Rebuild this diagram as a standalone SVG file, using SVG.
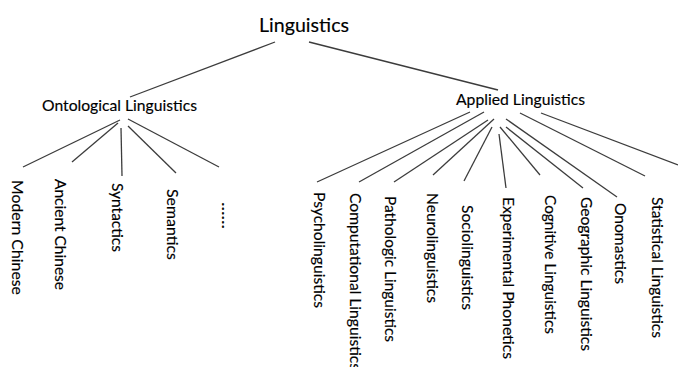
<svg xmlns="http://www.w3.org/2000/svg" width="678" height="367" viewBox="0 0 678 367">
<style>
.t{font-family:Lato,"Open Sans","Liberation Sans",sans-serif;fill:#000;stroke:#000;stroke-width:0.15px;font-size:15.4px}
.title{font-size:20px}
.c line{stroke:#3c3c3c;stroke-width:1.3}
</style>
<rect width="678" height="367" fill="#fff"/>
<g class="c" id="connectors">
<line x1="275" y1="42" x2="130" y2="97"/>
<line x1="309" y1="42" x2="498" y2="90"/>
<line x1="120" y1="120" x2="23" y2="167"/>
<line x1="118" y1="123" x2="72" y2="162"/>
<line x1="121" y1="128" x2="122" y2="176"/>
<line x1="128" y1="126" x2="176" y2="173"/>
<line x1="128" y1="119" x2="219" y2="167"/>
<line x1="470" y1="112" x2="317" y2="182"/>
<line x1="484" y1="112" x2="359" y2="182"/>
<line x1="488" y1="120" x2="394" y2="182"/>
<line x1="494" y1="119" x2="433" y2="175"/>
<line x1="492" y1="127" x2="464" y2="181"/>
<line x1="499" y1="134" x2="506" y2="188"/>
<line x1="500" y1="127" x2="540" y2="175"/>
<line x1="506" y1="127" x2="583" y2="188"/>
<line x1="506" y1="119" x2="617" y2="197"/>
<line x1="520" y1="113" x2="645" y2="176"/>
<line x1="541" y1="113" x2="678" y2="165"/>
</g>
<g id="linguistics"><text class="t title" x="259" y="32" textLength="90" lengthAdjust="spacingAndGlyphs">Linguistics</text></g>
<g id="ontological"><text class="t" x="42" y="111" textLength="155" lengthAdjust="spacingAndGlyphs">Ontological Linguistics</text></g>
<g id="applied"><text class="t" x="456" y="105" textLength="129" lengthAdjust="spacingAndGlyphs">Applied Linguistics</text></g>
<g id="modern-chinese"><text class="t" transform="translate(12,180) rotate(90)" textLength="115" lengthAdjust="spacingAndGlyphs">Modern Chinese</text></g>
<g id="ancient-chinese"><text class="t" transform="translate(55,179) rotate(90)" textLength="111" lengthAdjust="spacingAndGlyphs">Ancient Chinese</text></g>
<g id="syntactics"><text class="t" transform="translate(112,183) rotate(90)" textLength="69" lengthAdjust="spacingAndGlyphs">Syntactics</text></g>
<g id="semantics"><text class="t" transform="translate(167,189) rotate(90)" textLength="71" lengthAdjust="spacingAndGlyphs">Semantics</text></g>
<g id="ellipsis"><text class="t" transform="translate(222,202) rotate(90)" textLength="27" lengthAdjust="spacingAndGlyphs">......</text></g>
<g id="psycholinguistics"><text class="t" transform="translate(314,192) rotate(90)" textLength="116" lengthAdjust="spacingAndGlyphs">Psycholinguistics</text></g>
<g id="computational"><text class="t" transform="translate(350,193) rotate(90)" textLength="177" lengthAdjust="spacingAndGlyphs">Computational Linguistics</text></g>
<g id="pathologic"><text class="t" transform="translate(385,196) rotate(90)" textLength="146" lengthAdjust="spacingAndGlyphs">Pathologic Linguistics</text></g>
<g id="neurolinguistics"><text class="t" transform="translate(427,193) rotate(90)" textLength="110" lengthAdjust="spacingAndGlyphs">Neurolinguistics</text></g>
<g id="sociolinguistics"><text class="t" transform="translate(462,205) rotate(90)" textLength="105" lengthAdjust="spacingAndGlyphs">Sociolinguistics</text></g>
<g id="experimental"><text class="t" transform="translate(503,197) rotate(90)" textLength="162" lengthAdjust="spacingAndGlyphs">Experimental Phonetics</text></g>
<g id="cognitive"><text class="t" transform="translate(545,195) rotate(90)" textLength="139" lengthAdjust="spacingAndGlyphs">Cognitive Linguistics</text></g>
<g id="geographic"><text class="t" transform="translate(581,197) rotate(90)" textLength="154" lengthAdjust="spacingAndGlyphs">Geographic Linguistics</text></g>
<g id="onomastics"><text class="t" transform="translate(615,203) rotate(90)" textLength="81" lengthAdjust="spacingAndGlyphs">Onomastics</text></g>
<g id="statistical"><text class="t" transform="translate(652,197) rotate(90)" textLength="141" lengthAdjust="spacingAndGlyphs">Statistical Linguistics</text></g>
</svg>
